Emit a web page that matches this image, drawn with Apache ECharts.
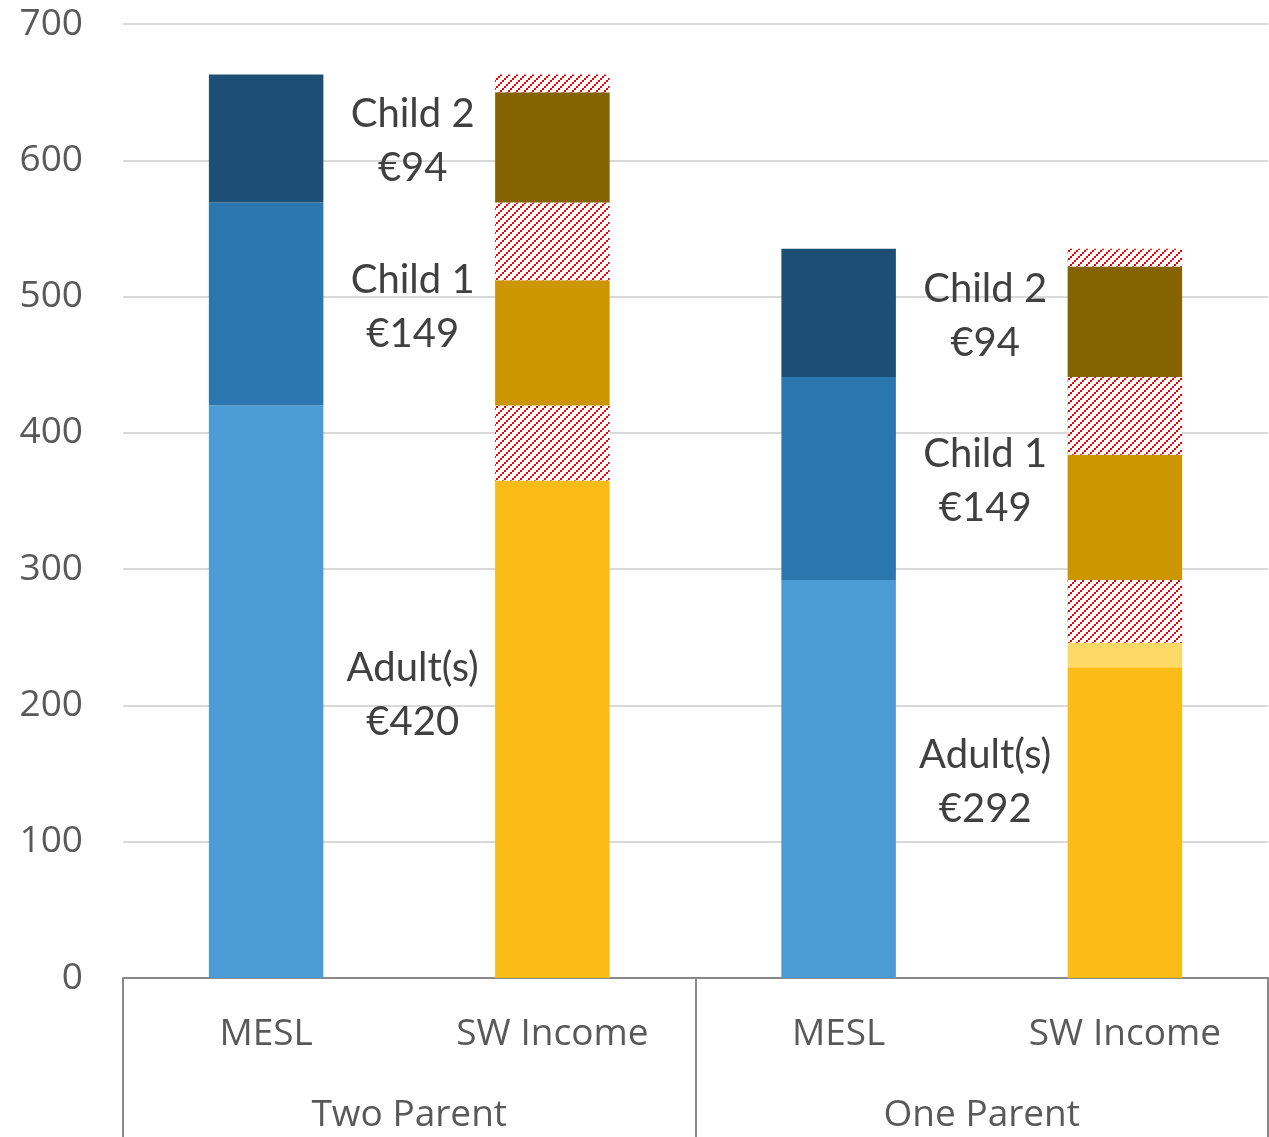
<!DOCTYPE html>
<html>
<head>
<meta charset="utf-8">
<script src="https://cdn.jsdelivr.net/npm/echarts@6/dist/echarts.min.js"></script>
<style>
  html, body { margin: 0; padding: 0; background: #fff; }
  #chart { width: 1269px; height: 1137px; }
</style>
</head>
<body>
<div id="chart"></div>
<script>
// categories
var barNames = ['MESL', 'SW Income', 'MESL', 'SW Income'];
var groupNames = ['Two Parent', 'One Parent'];
var yTicks = [0, 100, 200, 300, 400, 500, 600, 700];

// MESL segments
var meslAdult = [420, '-', 292, '-'];
var meslChild1 = [149, '-', 149, '-'];
var meslChild2 = [94, '-', 94, '-'];

// SW income segments (hatched = shortfall)
var swAdult = ['-', 365, '-', 228];
var swAdultExtra = ['-', 0, '-', 18];
var gapAdult = ['-', 55, '-', 46];
var swChild1 = ['-', 92, '-', 92];
var gapChild1 = ['-', 57, '-', 57];
var swChild2 = ['-', 81, '-', 81];
var gapChild2 = ['-', 13, '-', 13];

// label texts next to MESL bars
var adultLabels = ['Adult(s)\n€420', '', 'Adult(s)\n€292', ''];
var child1Labels = ['Child 1\n€149', '', 'Child 1\n€149', ''];
var child2Labels = ['Child 2\n€94', '', 'Child 2\n€94', ''];

// red dotted diagonal hatch
function hatch() {
    var c = document.createElement('canvas');
    c.width = 8; c.height = 8;
    var ctx = c.getContext('2d');
    ctx.fillStyle = '#ffffff';
    ctx.fillRect(0, 0, 8, 8);
    ctx.fillStyle = '#ee0000';
    for (var i = 0; i < 4; i++) {
        ctx.fillRect(i * 2, 6 - i * 2, 2, 2);
    }
    return { image: c, repeat: 'repeat' };
}
var hatchFill = hatch();

var labelStyle = {
    show: true,
    position: ['178%', '50%'],
    offset: [0, 3],
    align: 'center',
    verticalAlign: 'middle',
    fontFamily: 'Lato',
    fontSize: 40,
    lineHeight: 54,
    color: '#404040'
};

function withLabels(values, texts) {
    return values.map(function (v, i) {
        if (v === '-') return v;
        return { value: v, label: Object.assign({}, labelStyle, { formatter: texts[i] }) };
    });
}

function bar(name, data, color) {
    return {
        name: name,
        type: 'bar',
        stack: 'total',
        barWidth: '40%',
        data: data,
        itemStyle: { color: color },
        emphasis: { disabled: true }
    };
}

var myChart = echarts.init(document.getElementById('chart'));

var option = {
    animation: false,
    grid: { left: 123, right: 1, top: 24, bottom: 159 },
    xAxis: [{
        type: 'category',
        data: barNames,
        axisLine: { show: true, lineStyle: { color: '#898989', width: 2 } },
        axisTick: { show: false },
        axisLabel: { margin: 38, fontFamily: 'Open Sans', fontSize: 37, color: '#595959' }
    }, {
        type: 'category',
        position: 'bottom',
        data: groupNames,
        axisLine: { show: false },
        axisTick: { show: true, length: 160, lineStyle: { color: '#898989', width: 2 } },
        axisLabel: { margin: 119, fontFamily: 'Open Sans', fontSize: 37, color: '#595959' }
    }],
    yAxis: {
        type: 'value',
        min: yTicks[0],
        max: yTicks[yTicks.length - 1],
        interval: 100,
        axisLine: { show: false },
        axisTick: { show: false },
        axisLabel: { margin: 40, fontFamily: 'Open Sans', fontSize: 37, color: '#595959' },
        splitLine: { lineStyle: { color: '#d9d9d9', width: 2 } }
    },
    series: [
        bar('Adult MESL', withLabels(meslAdult, adultLabels), '#4b9bd4'),
        bar('Child 1 MESL', withLabels(meslChild1, child1Labels), '#2c76af'),
        bar('Child 2 MESL', withLabels(meslChild2, child2Labels), '#1d4e73'),
        bar('Adult SW', swAdult, '#fbbc18'),
        bar('Adult SW extra', swAdultExtra, '#ffd966'),
        bar('Adult gap', gapAdult, hatchFill),
        bar('Child 1 SW', swChild1, '#cc9600'),
        bar('Child 1 gap', gapChild1, hatchFill),
        bar('Child 2 SW', swChild2, '#846300'),
        bar('Child 2 gap', gapChild2, hatchFill)
    ]
};

myChart.setOption(option);
</script>
</body>
</html>
